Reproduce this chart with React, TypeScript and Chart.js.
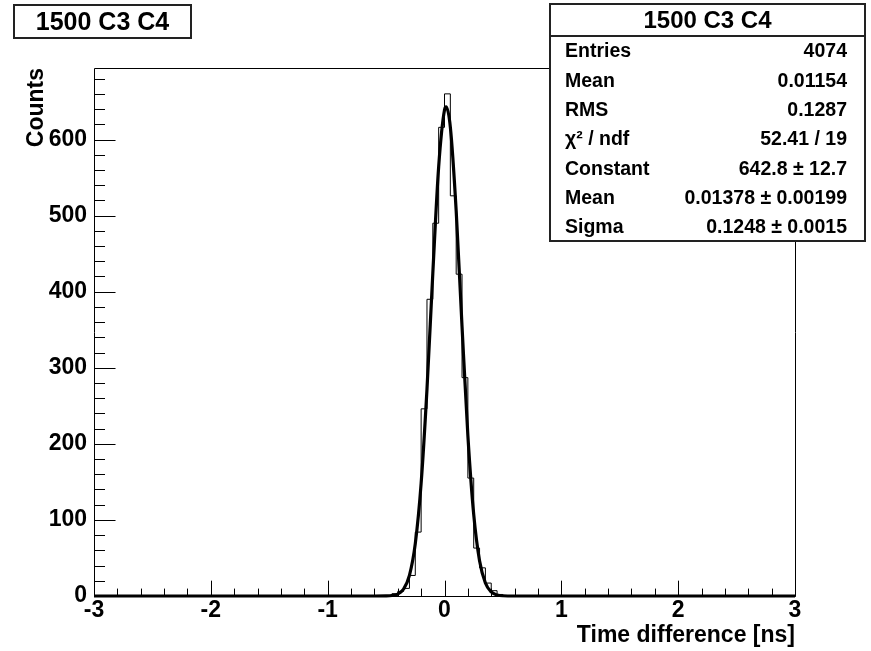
import React, { useEffect, useRef } from 'react';
import { Chart, registerables } from 'chart.js';

Chart.register(...registerables);

// ---------------- data ----------------
const histTitle = '1500 C3 C4';
const xAxisTitle = 'Time difference [ns]';
const yAxisTitle = 'Counts';

const xMin = -3;
const xMax = 3;
const yMax = 694;
const binLow = -3;
const binWidth = 0.05;

const xTickValues = [-3, -2, -1, 0, 1, 2, 3];
const yTickValues = [0, 100, 200, 300, 400, 500, 600];

// 120 bins of 0.05 ns from -3 to 3
const binCounts = [
  0, 0, 0, 0, 0, 0, 0, 0, 0, 0, // -3.00 .. -2.55
  0, 0, 0, 0, 0, 0, 0, 0, 0, 0, // -2.50 .. -2.05
  0, 0, 0, 0, 0, 0, 0, 0, 0, 0, // -2.00 .. -1.55
  0, 0, 0, 0, 0, 0, 0, 0, 0, 0, // -1.50 .. -1.05
  0, 0, 0, 0, 0, 0, 0, 0, 0, 0, // -1.00 .. -0.55
  0, 3, 6, 10, 27, 84, 246, 390, 490, 616, // -0.50 .. -0.05
  660, 526, 423, 287, 155, 63, 37, 17, 7, 2, // 0.00 .. 0.45
  0, 0, 0, 0, 0, 0, 0, 0, 0, 0, // 0.50 .. 0.95
  0, 0, 0, 0, 0, 0, 0, 0, 0, 0, // 1.00 .. 1.45
  0, 0, 0, 0, 0, 0, 0, 0, 0, 0, // 1.50 .. 1.95
  0, 0, 0, 0, 0, 0, 0, 0, 0, 0, // 2.00 .. 2.45
  0, 0, 0, 0, 0, 0, 0, 0, 0, 0, // 2.50 .. 2.95
];

// fitted gaussian curve
const fitX = [-3, -0.6, -0.5, -0.45, -0.4, -0.35, -0.3, -0.25, -0.2, -0.15, -0.1, -0.05, 0, 0.014, 0.05, 0.1, 0.15, 0.2, 0.25, 0.3, 0.35, 0.4, 0.45, 0.5, 0.6, 3];
const fitY = [0, 0, 0.1, 0.6, 2.6, 9.2, 27.2, 68.8, 148.2, 271.7, 424.2, 564.1, 638.9, 642.8, 616.3, 506.3, 354.3, 211.2, 107.2, 46.3, 17.1, 5.3, 1.4, 0.3, 0, 0];

const statLabels = ['Entries', 'Mean', 'RMS', '\u03C7\u00B2 / ndf', 'Constant', 'Mean', 'Sigma'];
const statValues = ['4074', '0.01154', '0.1287', '52.41 / 19', '642.8 \u00B1 12.7', '0.01378 \u00B1 0.00199', '0.1248 \u00B1 0.0015'];

const xMajorStep = 1;
const xMinorStep = 0.2;
const yMajorStep = 100;
const yMinorStep = 20;

const FONT = '"Liberation Sans", Arial, Helvetica, sans-serif';

const rootPlugin = {
  id: 'rootDecor',
  afterDatasetsDraw(chart: any) {
    const { ctx, chartArea: a, scales } = chart;
    const x = scales.x;
    const y = scales.y;
    ctx.save();
    ctx.strokeStyle = '#000';
    ctx.lineWidth = 1;
    const L = Math.round(a.left) + 0.5;
    const R = Math.round(a.right) + 0.5;
    const T = Math.round(a.top) + 0.5;
    const B = Math.round(a.bottom) + 0.5;
    ctx.beginPath();
    ctx.rect(L, T, R - L, B - T);
    ctx.stroke();
    const h = a.bottom - a.top;
    const w = a.right - a.left;
    const nx = Math.round((xMax - xMin) / xMinorStep);
    ctx.beginPath();
    for (let i = 0; i <= nx; i++) {
      const v = xMin + i * xMinorStep;
      const major = Math.abs(v / xMajorStep - Math.round(v / xMajorStep)) < 1e-6;
      const px = Math.round(x.getPixelForValue(v)) + 0.5;
      const len = major ? 0.03 * h : 0.015 * h;
      ctx.moveTo(px, B);
      ctx.lineTo(px, B - len);
    }
    for (let v = 0; v <= yMax; v += yMinorStep) {
      const major = v % yMajorStep === 0;
      const py = Math.round(y.getPixelForValue(v)) + 0.5;
      const len = major ? 0.03 * w : 0.015 * w;
      ctx.moveTo(L, py);
      ctx.lineTo(L + len, py);
    }
    ctx.stroke();
    ctx.restore();
  },
  afterDraw(chart: any) {
    const { ctx, chartArea: a } = chart;
    ctx.save();
    // top-left title box
    ctx.fillStyle = '#fff';
    ctx.fillRect(14, 5, 177, 33);
    ctx.strokeStyle = '#222';
    ctx.lineWidth = 2;
    ctx.strokeRect(14, 5, 177, 33);
    ctx.fillStyle = '#000';
    ctx.font = `bold 25px ${FONT}`;
    ctx.textAlign = 'center';
    ctx.textBaseline = 'middle';
    ctx.fillText(histTitle, 102.5, 23);

    // stats box
    const sx0 = 550, sy0 = 4, sx1 = 865, sy1 = 241;
    ctx.fillStyle = '#fff';
    ctx.fillRect(sx0, sy0, sx1 - sx0, sy1 - sy0);
    ctx.strokeStyle = '#222';
    ctx.lineWidth = 2;
    ctx.strokeRect(sx0, sy0, sx1 - sx0, sy1 - sy0);
    ctx.beginPath();
    ctx.moveTo(sx0, 36);
    ctx.lineTo(sx1, 36);
    ctx.stroke();
    ctx.fillStyle = '#000';
    ctx.font = `bold 24px ${FONT}`;
    ctx.textAlign = 'center';
    ctx.fillText(histTitle, (sx0 + sx1) / 2, 21);
    ctx.font = `bold 19.5px ${FONT}`;
    const rowY0 = 52;
    const rowStep = 29.3;
    for (let i = 0; i < statLabels.length; i++) {
      const ry = rowY0 + i * rowStep;
      ctx.textAlign = 'left';
      ctx.fillText(statLabels[i], 565, ry);
      ctx.textAlign = 'right';
      ctx.fillText(statValues[i], 847, ry);
    }

    // axis titles
    ctx.font = `bold 23px ${FONT}`;
    ctx.textAlign = 'right';
    ctx.textBaseline = 'middle';
    ctx.fillText(xAxisTitle, a.right, 636);
    ctx.save();
    ctx.translate(37, a.top);
    ctx.rotate(-Math.PI / 2);
    ctx.textAlign = 'right';
    ctx.fillText(yAxisTitle, 0, 0);
    ctx.restore();
    ctx.restore();
  },
};

export default function App() {
  const ref = useRef<HTMLCanvasElement>(null);
  useEffect(() => {
    const canvas = ref.current;
    if (!canvas) return;
    // points at bin low edges; 'before' stepping draws [edge_i, edge_i+1] at count_i
    const histPts = binCounts.map((c, i) => ({ x: binLow + i * binWidth, y: c }));
    histPts.push({ x: xMax, y: 0 });
    const fitPts = fitX.map((xv, i) => ({ x: xv, y: fitY[i] }));
    const tickFont = { family: FONT, size: 23, weight: 'bold' as const };
    const chart = new Chart(canvas, {
      type: 'line',
      data: {
        datasets: [
          {
            label: 'fit',
            data: fitPts,
            borderColor: '#000',
            borderWidth: 3.2,
            pointRadius: 0,
            cubicInterpolationMode: 'monotone',
            fill: false,
            clip: 4,
          } as any,
          {
            label: 'hist',
            data: histPts,
            borderColor: '#000',
            borderWidth: 1,
            pointRadius: 0,
            stepped: 'before',
            fill: false,
          } as any,
        ],
      },
      options: {
        animation: false,
        responsive: false,
        devicePixelRatio: 1,
        parsing: false as any,
        layout: { padding: { top: 68, right: 76, left: 0, bottom: 0 } },
        plugins: {
          legend: { display: false },
          tooltip: { enabled: false },
          title: { display: false },
        },
        elements: { point: { radius: 0 } },
        scales: {
          x: {
            type: 'linear',
            min: xMin,
            max: xMax,
            grid: { display: false, drawTicks: false },
            border: { display: false },
            afterBuildTicks: (s: any) => {
              s.ticks = xTickValues.map((v) => ({ value: v }));
            },
            ticks: {
              autoSkip: false,
              maxRotation: 0,
              padding: 1,
              color: '#000',
              font: tickFont,
              callback: (v: any) => String(v),
            },
            afterFit: (s: any) => {
              s.height = 55;
            },
          } as any,
          y: {
            type: 'linear',
            min: 0,
            max: yMax,
            grid: { display: false, drawTicks: false },
            border: { display: false },
            afterBuildTicks: (s: any) => {
              s.ticks = yTickValues.map((v) => ({ value: v }));
            },
            ticks: {
              autoSkip: false,
              padding: 7,
              color: '#000',
              font: tickFont,
              callback: (v: any) => String(v),
            },
            afterFit: (s: any) => {
              s.width = 94;
            },
          } as any,
        },
      },
      plugins: [rootPlugin],
    });
    return () => chart.destroy();
  }, []);
  return (
    <div style={{ position: 'absolute', left: 0, top: 0, width: 871, height: 651, background: '#fff' }}>
      <canvas ref={ref} width={871} height={651} style={{ display: 'block' }} />
    </div>
  );
}
